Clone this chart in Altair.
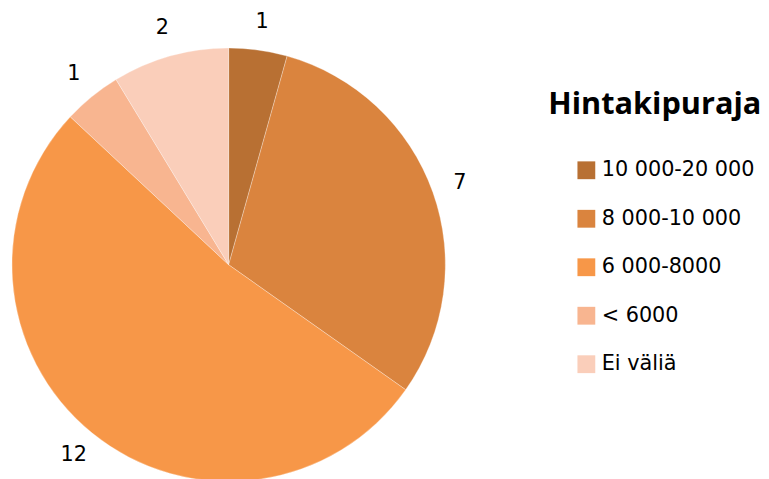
import altair as alt
import pandas as pd

categories = ["10 000-20 000", "8 000-10 000", " 6 000-8000", "< 6000", "Ei väliä"]
counts = [1, 7, 12, 1, 2]
slice_order = [0, 1, 2, 3, 4]
colors = ["#B87033", "#DA843E", "#F79748", "#F8B590", "#FACEBA"]

df = pd.DataFrame({"cat": categories, "n": counts, "ord": slice_order})

base = alt.Chart(df).encode(
    theta=alt.Theta("n:Q", stack=True),
    order=alt.Order("ord:Q"),
    x=alt.value(223),
    y=alt.value(257),
)

arc = base.mark_arc(outerRadius=219, stroke="white", strokeWidth=0.3).encode(
    color=alt.Color(
        "cat:N",
        scale=alt.Scale(domain=categories, range=colors),
        sort=categories,
        legend=alt.Legend(
            title="Hintakipuraja",
            orient="none",
            legendX=546,
            legendY=81,
            titleFont="Open Sans",
            titleFontSize=31,
            titleFontWeight="bold",
            titleColor="black",
            titlePadding=39,
            titleLimit=400,
            labelLimit=400,
            labelFont="DejaVu Sans",
            labelFontSize=21,
            labelColor="black",
            symbolType="square",
            symbolSize=324,
            symbolStrokeWidth=0,
            symbolOpacity=1,
            symbolOffset=28,
            rowPadding=27,
            labelOffset=5,
        ),
    )
)

text = base.mark_text(radius=248, fontSize=21, font="DejaVu Sans", color="black").encode(
    text="n:Q",
    detail="cat:N",
)

chart = (
    alt.layer(arc, text)
    .properties(width=761, height=471, autosize=alt.AutoSizeParams(type="none"), padding=0, background="white")
    .configure_view(stroke=None)
)

chart.save("out.html", embed_options={"renderer": "svg", "actions": False})
